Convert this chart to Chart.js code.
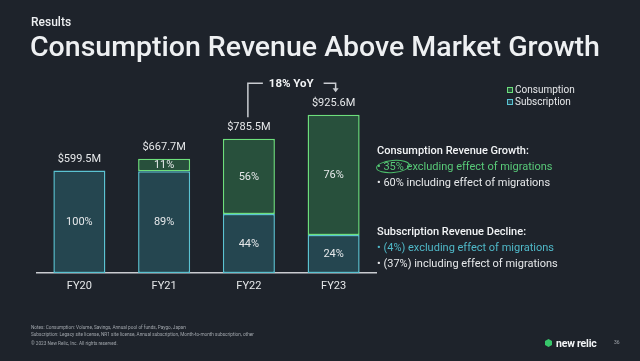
<!DOCTYPE html>
<html>
<head>
<meta charset="utf-8">
<script src="https://cdn.jsdelivr.net/npm/chart.js@4"></script>
<style>
html,body{margin:0;padding:0;background:#1e232b;}
body{width:640px;height:361px;position:relative;overflow:hidden;font-family:Roboto,"Noto Sans",sans-serif;color:#eef0f2;}
#wrap{position:absolute;left:0;top:0;width:640px;height:361px;}
.abs{position:absolute;white-space:nowrap;}
#kicker{left:31px;top:15px;font-size:12px;font-weight:500;}
#title{left:30px;top:30px;font-size:28.5px;font-weight:500;}
.leg{left:507px;font-size:10px;line-height:12px;color:#e6e8ea;}
.leg i{display:inline-block;width:4px;height:4px;border:1.5px solid;margin-right:2px;vertical-align:0px;}
.side{left:377px;font-size:11px;line-height:16px;color:#e6e8ea;}
.side b{font-weight:500;color:#f2f4f6;}
.notes{left:31px;font-size:4.7px;color:#a2a7ad;line-height:7px;}
#ring{left:376px;top:160px;width:32px;height:11px;border:1.3px solid #4cbf6b;border-radius:50%;transform:rotate(-5deg);}
#logo{left:556px;top:337px;font-size:10.5px;font-weight:700;color:#f2f4f6;letter-spacing:-0.2px;}
#mark{left:545px;top:339px;width:7px;height:8px;background:#37c76a;clip-path:polygon(50% 0,100% 25%,100% 75%,50% 100%,0 75%,0 25%);}
#page{left:614px;top:339px;font-size:5px;color:#a2a7ad;}
</style>
</head>
<body>
<div id="wrap"><canvas id="c"></canvas></div>
<div class="abs" id="kicker">Results</div>
<div class="abs" id="title">Consumption Revenue Above Market Growth</div>
<div class="abs leg" style="top:84px"><i style="border-color:#6ddf7c;background:#28503c"></i>Consumption</div>
<div class="abs leg" style="top:96px"><i style="border-color:#5bc3d2;background:#254650"></i>Subscription</div>
<div class="abs side" style="top:143px"><b>Consumption Revenue Growth:</b></div>
<div class="abs side" style="top:159px;color:#58c978">• 35% excluding effect of migrations</div>
<div class="abs side" style="top:175px">• 60% including effect of migrations</div>
<div class="abs side" style="top:224px"><b>Subscription Revenue Decline:</b></div>
<div class="abs side" style="top:240px;color:#4fb8c8">• (4%) excluding effect of migrations</div>
<div class="abs side" style="top:256px">• (37%) including effect of migrations</div>
<div class="abs" id="ring"></div>
<div class="abs notes" style="top:324px">Notes: Consumption: Volume, Savings, Annual pool of funds, Paygo, Japan<br>Subscription: Legacy site license, NR1 site license, Annual subscription, Month-to-month subscription, other</div>
<div class="abs notes" style="top:340px">© 2023 New Relic, Inc. All rights reserved.</div>
<div class="abs" id="mark"></div>
<div class="abs" id="logo">new relic</div>
<div class="abs" id="page">36</div>
<script>
// values in $M
const years = ["FY20", "FY21", "FY22", "FY23"];
const totals = [599.5, 667.7, 785.5, 925.6];
const subscription = [599.5, 594.3, 345.6, 222.1];
const consumption = [null, 73.4, 439.9, 703.5];
const subShare = ["100%", "89%", "44%", "24%"];
const consShare = [null, "11%", "56%", "76%"];
const yoyText = "18% YoY";

const shareLabels = [subShare, consShare];

const barLabels = {
  id: "barLabels",
  afterDatasetsDraw(chart) {
    const ctx = chart.ctx;
    ctx.save();
    ctx.textAlign = "center";
    ctx.textBaseline = "middle";
    ctx.fillStyle = "#e6e8ea";
    ctx.font = "11px Roboto";
    chart.data.datasets.forEach((ds, i) => {
      chart.getDatasetMeta(i).data.forEach((bar, j) => {
        if (ds.data[j] == null) return;
        ctx.fillText(shareLabels[i][j], bar.x, (bar.y + bar.base) / 2 + 0.5);
      });
    });
    // totals above each stack
    ctx.font = "11px Roboto";
    const tops = [];
    years.forEach((y, j) => {
      let top = chart.getDatasetMeta(0).data[j];
      if (consumption[j] != null) top = chart.getDatasetMeta(1).data[j];
      const ly = top.y - 11.5;
      tops.push({x: top.x, y: ly});
      ctx.fillText("$" + totals[j].toFixed(1) + "M", top.x, ly);
    });
    // yoy bracket FY22 -> FY23
    const a = tops[2], b = tops[3];
    const yy = b.y - 20;
    ctx.strokeStyle = "#c9ccd1";
    ctx.lineWidth = 1.5;
    ctx.beginPath();
    ctx.moveTo(a.x - 1, a.y - 10);
    ctx.lineTo(a.x - 1, yy);
    ctx.lineTo(a.x + 14, yy);
    ctx.moveTo(b.x - 10, yy);
    ctx.lineTo(b.x + 2, yy);
    ctx.lineTo(b.x + 2, yy + 6);
    ctx.stroke();
    ctx.fillStyle = "#c9ccd1";
    ctx.beginPath();
    ctx.moveTo(b.x - 1, yy + 5);
    ctx.lineTo(b.x + 5, yy + 5);
    ctx.lineTo(b.x + 2, yy + 9);
    ctx.closePath();
    ctx.fill();
    ctx.fillStyle = "#f2f4f6";
    ctx.font = "bold 11.5px Roboto";
    ctx.fillText(yoyText, (a.x + b.x) / 2, yy + 0.5);
    ctx.restore();
  }
};

new Chart(document.getElementById("c"), {
  type: "bar",
  data: {
    labels: years,
    datasets: [{
      label: "Subscription",
      data: subscription,
      backgroundColor: "#254650",
      borderColor: "#5bc3d2",
      borderWidth: 1.5,
      borderSkipped: false
    }, {
      label: "Consumption",
      data: consumption,
      backgroundColor: "#28503c",
      borderColor: "#6ddf7c",
      borderWidth: 1.5,
      borderSkipped: false
    }]
  },
  options: {
    responsive: true,
    maintainAspectRatio: false,
    animation: false,
    layout: {padding: {left: 37, right: 264, top: 102, bottom: 68}},
    plugins: {legend: {display: false}, tooltip: {enabled: false}},
    datasets: {bar: {categoryPercentage: 1, barPercentage: 0.614}},
    scales: {
      x: {
        stacked: true,
        grid: {display: false, drawTicks: false},
        border: {display: true, color: "#c9ccd1", width: 1.5},
        ticks: {color: "#e6e8ea", font: {family: "Roboto", size: 11}, padding: 7},
        afterFit: s => { s.height = 20; }
      },
      y: {stacked: true, display: false, min: 0, max: 1000}
    }
  },
  plugins: [barLabels]
});
</script>
</body>
</html>
